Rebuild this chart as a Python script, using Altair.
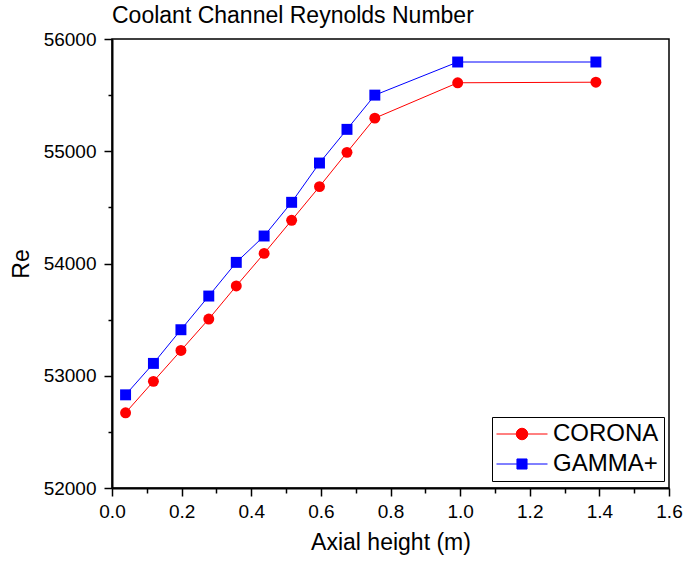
import altair as alt
import pandas as pd

# Axial position of each channel node (m)
height_m = [0.039, 0.119, 0.198, 0.278, 0.357, 0.437, 0.516, 0.596, 0.675, 0.755, 0.993, 1.390]
# Reynolds number per code
re_corona = [52670, 52950, 53225, 53505, 53800, 54090, 54385, 54685, 54990, 55295, 55610, 55615]
re_gamma = [52830, 53110, 53410, 53710, 54010, 54245, 54545, 54895, 55195, 55500, 55795, 55795]

series = ["CORONA", "GAMMA+"]
colors = ["#ff0000", "#0000ff"]
shapes = ["circle", "square"]

x_ticks = [0.0, 0.1, 0.2, 0.3, 0.4, 0.5, 0.6, 0.7, 0.8, 0.9, 1.0, 1.1, 1.2, 1.3, 1.4, 1.5, 1.6]
y_ticks = [52000, 52500, 53000, 53500, 54000, 54500, 55000, 55500, 56000]

FONT = "Liberation Sans"

df = pd.concat([
    pd.DataFrame({"height": height_m, "re": re_corona, "code": series[0]}),
    pd.DataFrame({"height": height_m, "re": re_gamma, "code": series[1]}),
])

x_major = "abs(datum.value*5-round(datum.value*5))<0.001"
y_major = "datum.value % 1000 == 0"

common_axis = dict(
    grid=False, domainColor="black", domainWidth=2, tickColor="black", tickWidth=1.5,
    labelFont=FONT, titleFont=FONT, labelFontSize=19, titleFontSize=23,
    labelColor="black", titleColor="black", titleFontWeight="normal",
    labelOverlap=False, labelFlush=False,
)

x_enc = alt.X(
    "height:Q",
    scale=alt.Scale(domain=[0, 1.6], nice=False),
    axis=alt.Axis(
        values=x_ticks, title="Axial height (m)",
        labelExpr=f"{x_major} ? format(datum.value, '.1f') : ''",
        tickSize={"condition": {"test": x_major, "value": 8}, "value": 5},
        labelPadding=6, titlePadding=10, **common_axis,
    ),
)
y_enc = alt.Y(
    "re:Q",
    scale=alt.Scale(domain=[52000, 56000], nice=False, zero=False),
    axis=alt.Axis(
        values=y_ticks, title="Re",
        labelExpr=f"{y_major} ? format(datum.value, 'd') : ''",
        tickSize={"condition": {"test": y_major, "value": 8}, "value": 4},
        labelPadding=8, titlePadding=10, **common_axis,
    ),
)
color_scale = alt.Scale(domain=series, range=colors)

# legend glyphs: short line with the marker in the middle
circle_path = "M-2.43,0H-0.55M0.55,0H2.43M-0.55,0A0.55,0.55,0,1,0,0.55,0A0.55,0.55,0,1,0,-0.55,0Z"
square_path = "M-2.43,0H-0.48M0.48,0H2.43M-0.48,-0.48H0.48V0.48H-0.48Z"

legend = alt.Legend(
    title=None, orient="none", legendX=380, legendY=378,
    strokeColor="black", fillColor="white", padding=5, rowPadding=6,
    symbolSize=441, symbolStrokeWidth=1, symbolOffset=13, labelOffset=19,
    symbolOpacity=1,
    labelFont=FONT, labelFontSize=24, labelColor="black",
)

color_enc = alt.Color("code:N", scale=color_scale, legend=legend)

# carries the legend glyphs only; draws nothing in the plot
key = alt.Chart(df).transform_filter("false").mark_point(
    filled=True, opacity=1, strokeWidth=1
).encode(
    x=x_enc, y=y_enc, color=color_enc,
    stroke=alt.Stroke("code:N", scale=color_scale, legend=legend),
    shape=alt.Shape("code:N", scale=alt.Scale(domain=series, range=[circle_path, square_path]),
                    legend=legend),
)

lines = alt.Chart(df).mark_line(strokeWidth=1).encode(
    x=x_enc, y=y_enc, color=color_enc, detail="code:N",
)


def markers(name, shape):
    return alt.Chart(df).transform_filter(alt.datum.code == name).mark_point(
        filled=True, opacity=1, size=120, strokeWidth=0, shape=shape
    ).encode(x=x_enc, y=y_enc, color=color_enc)


chart = (
    alt.layer(key, lines, markers(series[0], shapes[0]), markers(series[1], shapes[1]))
    .properties(
        width=557, height=449,
        autosize=alt.AutoSizeParams(type="none"),
        padding={"left": 112, "top": 39, "right": 18, "bottom": 75},
        title=alt.TitleParams(
            "Coolant Channel Reynolds Number", anchor="start", frame="group",
            font=FONT, fontSize=23, fontWeight="normal", color="black",
            offset=2,
        ),
        background="white",
    )
    .configure_view(stroke="black", strokeWidth=1.5)
)

chart.save("out.html", embed_options={"renderer": "svg", "actions": False})
